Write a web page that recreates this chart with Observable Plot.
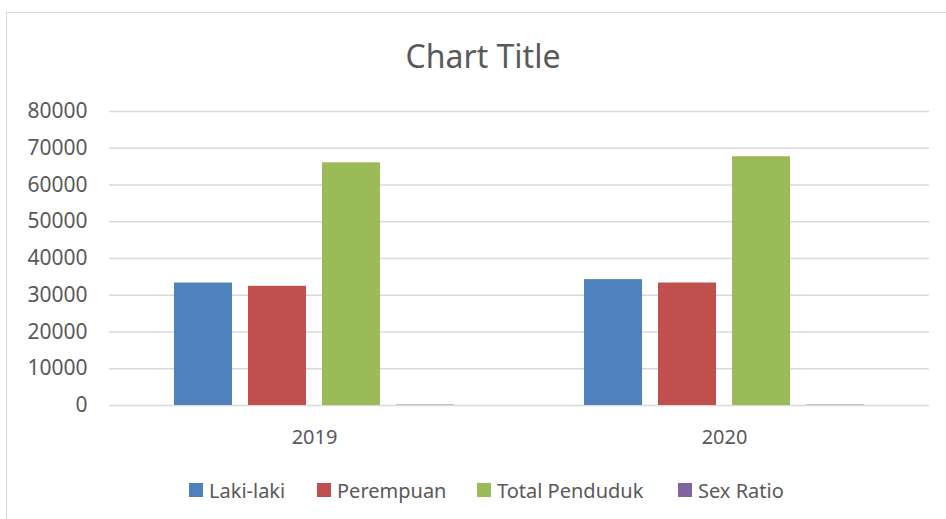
<!DOCTYPE html>
<html>
<head>
<meta charset="utf-8">
<script src="https://cdn.jsdelivr.net/npm/d3@7"></script>
<script src="https://cdn.jsdelivr.net/npm/@observablehq/plot@0.6"></script>
<style>
  html, body { margin: 0; padding: 0; background: #fff; overflow: hidden; }
  #page { position: relative; width: 946px; height: 519px; overflow: hidden; font-family: "Noto Sans", sans-serif; color: #595959; }
  #frame { position: absolute; left: 6px; top: 12px; width: 1000px; height: 600px; border: 1px solid #d9d9d9; }
  #title { position: absolute; left: 0; width: 966px; top: 35px; text-align: center; font-size: 32px; line-height: 42px; color: #595959; }
  #chart { position: absolute; left: 0; top: 90px; }
  #legend { position: absolute; top: 476px; left: 0; width: 946px; height: 28px; }
  .item { position: absolute; top: 0; display: flex; align-items: center; height: 28px; font-size: 20px; }
  .sw { width: 14px; height: 14px; margin-right: 6px; }
</style>
</head>
<body>
<div id="page">
  <div id="frame"></div>
  <div id="title">Chart Title</div>
  <div id="chart"></div>
  <div id="legend"></div>
</div>
<script>
const years = ["2019", "2020"];
const series = ["Laki-laki", "Perempuan", "Total Penduduk", "Sex Ratio"];
const lakiLaki = [33330, 34250];
const perempuan = [32430, 33330];
const totalPenduduk = [66050, 67690];
const sexRatio = [102.8, 102.8];
const colors = ["#4F81BD", "#C0504D", "#9BBB59", "#8064A2"];
const yTicks = [0, 10000, 20000, 30000, 40000, 50000, 60000, 70000, 80000];
const legendX = [189, 317, 477, 678];

const values = [lakiLaki, perempuan, totalPenduduk, sexRatio];
const data = [];
years.forEach((yr, i) => {
  series.forEach((s, j) => data.push({year: yr, series: s, value: values[j][i]}));
});

const chart = Plot.plot({
  width: 946,
  height: 370,
  marginTop: 21,
  marginBottom: 55,
  marginLeft: 108,
  marginRight: 17,
  style: {fontSize: "21px", fontFamily: "'Noto Sans', sans-serif", color: "#595959", background: "transparent"},
  fx: {domain: years, padding: 0, label: null},
  x: {domain: series, paddingInner: 0.21, paddingOuter: 0.86, axis: null},
  y: {domain: [0, 80000], label: null},
  color: {domain: series, range: colors},
  marks: [
    Plot.gridY(yTicks, {stroke: "#d9d9d9", strokeOpacity: 1, strokeWidth: 1.6}),
    Plot.barY(data, {fx: "year", x: "series", y: "value", fill: "series"}),
    Plot.axisY(yTicks, {tickSize: 0, tickPadding: 22, tickFormat: d => String(d), label: null, fontSize: 21}),
    Plot.axisFx({anchor: "bottom", tickSize: 0, tickPadding: 24, label: null, fontSize: 20})
  ]
});
document.getElementById("chart").appendChild(chart);

const legend = document.getElementById("legend");
series.forEach((s, i) => {
  const it = document.createElement("div");
  it.className = "item";
  it.style.left = legendX[i] + "px";
  const sw = document.createElement("div");
  sw.className = "sw";
  sw.style.background = colors[i];
  const tx = document.createElement("span");
  tx.textContent = s;
  it.appendChild(sw);
  it.appendChild(tx);
  legend.appendChild(it);
});
</script>
</body>
</html>
